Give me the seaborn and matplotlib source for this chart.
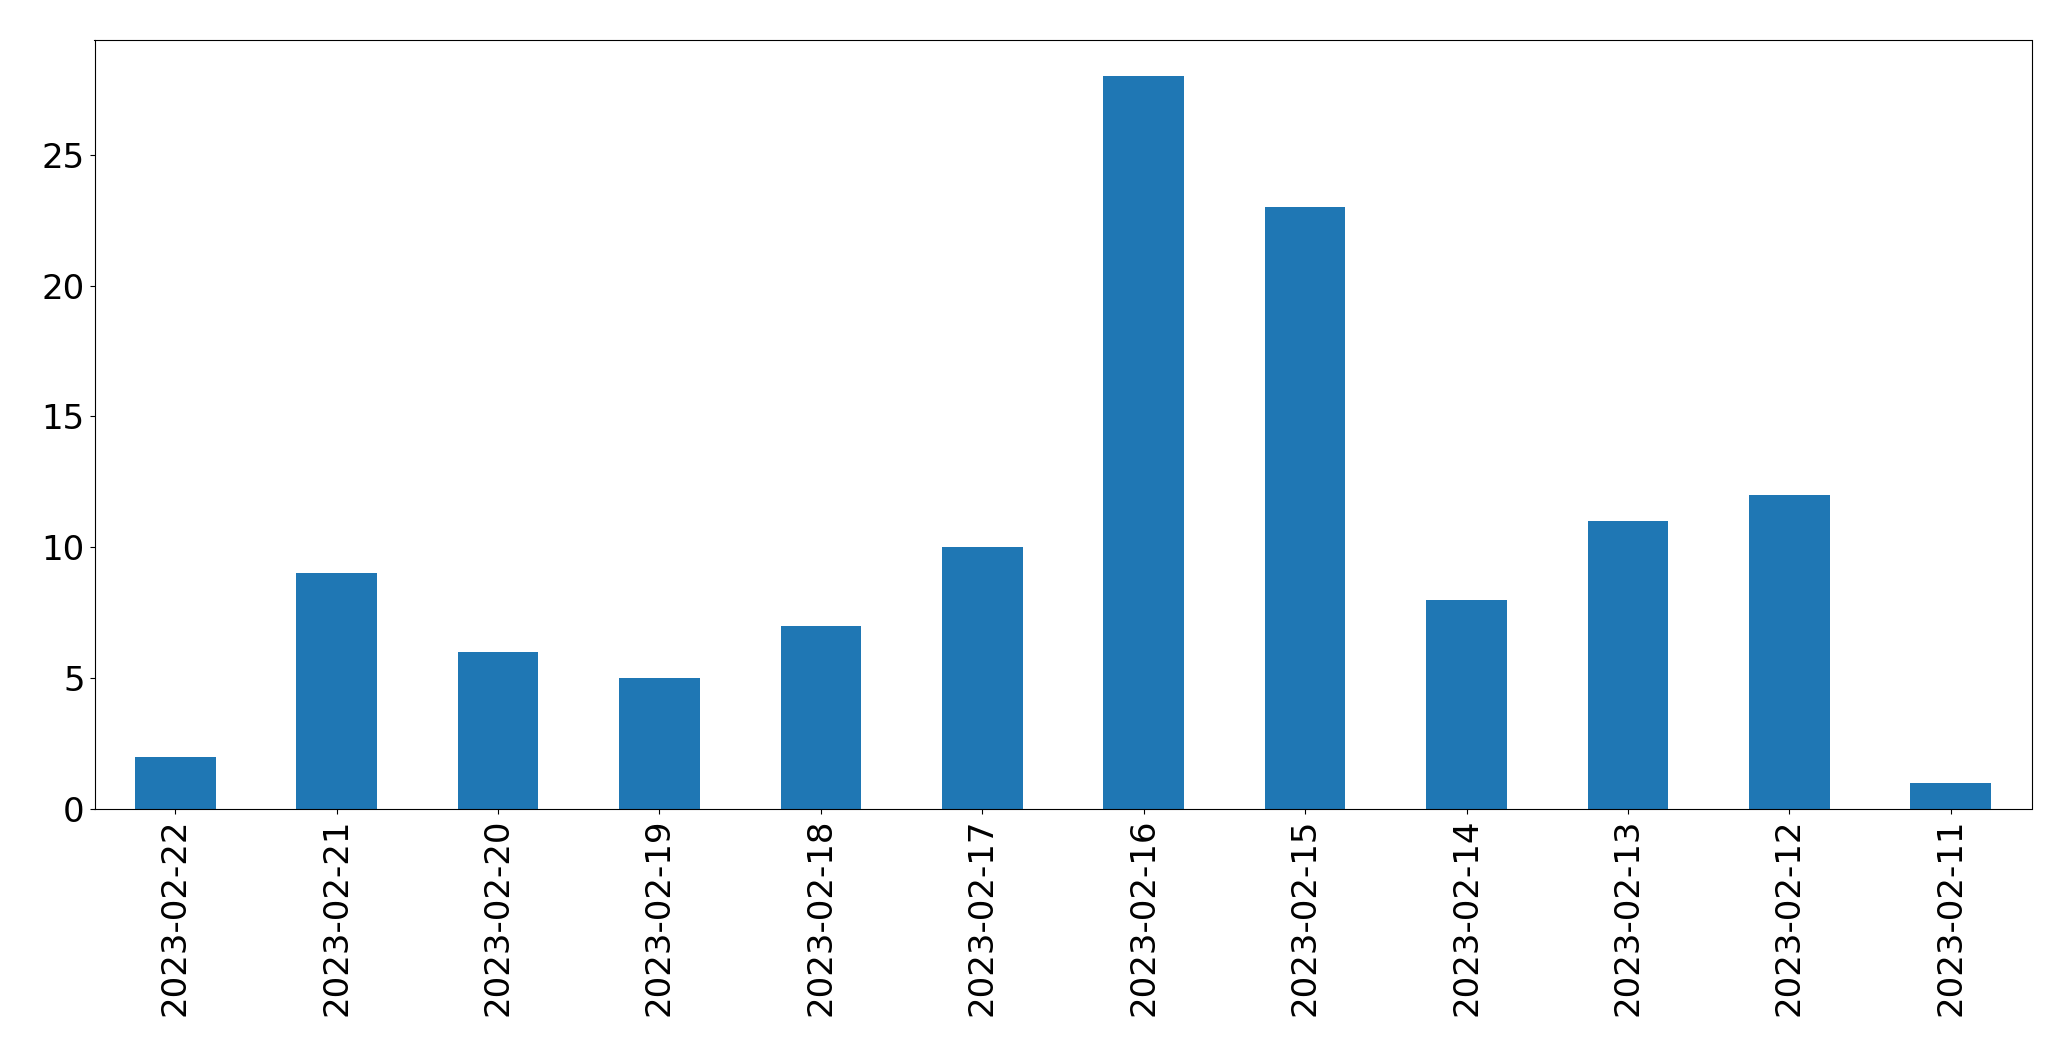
import pandas as pd
import matplotlib
matplotlib.use("Agg")
import matplotlib.pyplot as plt
import seaborn as sns

dates = ["2023-02-22", "2023-02-21", "2023-02-20", "2023-02-19", "2023-02-18", "2023-02-17",
         "2023-02-16", "2023-02-15", "2023-02-14", "2023-02-13", "2023-02-12", "2023-02-11"]
counts = [2, 9, 6, 5, 7, 10, 28, 23, 8, 11, 12, 1]

df = pd.DataFrame({"date": dates, "count": counts})

sns.set_style("ticks")
plt.rcParams['font.family'] = ['DejaVu Sans']

fig = plt.figure(figsize=(20.71, 10.61), dpi=100)
ax = fig.add_axes([94.5 / 2071, 1 - 809 / 1061, (2031.5 - 94.5) / 2071, (809 - 39.5) / 1061])

sns.barplot(data=df, x="date", y="count", color="#1f77b4", saturation=1, width=0.5,
            linewidth=0, ax=ax)

ax.set_xlim(-0.5, len(dates) - 0.5)
ax.set_ylim(0, 29.4)
ax.set_xlabel("")
ax.set_ylabel("")
ax.tick_params(axis="both", labelsize=24.5, length=3.5, width=0.8, color="black",
               labelcolor="black")
ax.tick_params(axis="x", rotation=90)
for s in ax.spines.values():
    s.set_visible(True)
    s.set_color("black")
    s.set_linewidth(0.8)

fig.savefig("out.png", dpi=100)
plt.close()
